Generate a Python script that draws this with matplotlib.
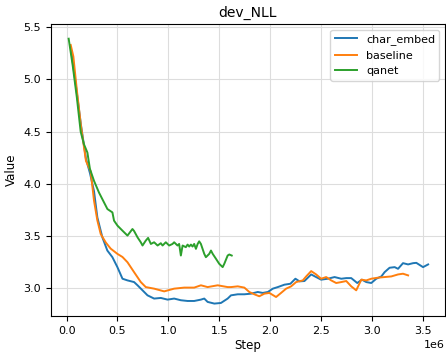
import matplotlib
matplotlib.use("Agg")
import matplotlib.pyplot as plt

# step values are in units of 1e6
char_x = [0.04, 0.09, 0.14, 0.19, 0.23, 0.269, 0.302, 0.351, 0.400, 0.450, 0.499, 0.549,
          0.598, 0.663, 0.697, 0.746, 0.795, 0.860, 0.926, 0.992, 1.057, 1.123, 1.189,
          1.254, 1.320, 1.353, 1.386, 1.452, 1.517, 1.583, 1.616, 1.682, 1.747, 1.813,
          1.879, 1.928, 1.978, 2.027, 2.076, 2.141, 2.200, 2.249, 2.289, 2.338, 2.404,
          2.453, 2.502, 2.568, 2.634, 2.700, 2.749, 2.798, 2.857, 2.903, 2.946, 2.995,
          3.044, 3.094, 3.126, 3.175, 3.225, 3.258, 3.307, 3.357, 3.406, 3.438, 3.504, 3.554]
char_y = [5.31, 4.95, 4.57, 4.24, 4.10, 3.93, 3.679, 3.489, 3.362, 3.298, 3.203, 3.092,
          3.076, 3.060, 3.029, 2.981, 2.933, 2.902, 2.908, 2.892, 2.902, 2.886, 2.879,
          2.879, 2.892, 2.902, 2.870, 2.854, 2.860, 2.902, 2.933, 2.943, 2.943, 2.949,
          2.965, 2.956, 2.965, 2.997, 3.012, 3.035, 3.044, 3.092, 3.067, 3.070, 3.133,
          3.108, 3.083, 3.092, 3.108, 3.092, 3.098, 3.098, 3.051, 3.083, 3.060, 3.051,
          3.092, 3.114, 3.155, 3.197, 3.203, 3.187, 3.241, 3.229, 3.241, 3.244, 3.203, 3.229]

base_x = [0.04, 0.066, 0.10, 0.14, 0.19, 0.236, 0.269, 0.302, 0.335, 0.384, 0.433, 0.499,
          0.549, 0.598, 0.663, 0.729, 0.778, 0.860, 0.959, 1.057, 1.156, 1.254, 1.320,
          1.386, 1.485, 1.583, 1.616, 1.682, 1.747, 1.796, 1.845, 1.894, 1.944, 1.993,
          2.059, 2.108, 2.158, 2.207, 2.256, 2.322, 2.355, 2.404, 2.453, 2.502, 2.552,
          2.601, 2.650, 2.700, 2.749, 2.798, 2.847, 2.897, 2.946, 2.995, 3.061, 3.126,
          3.192, 3.258, 3.307, 3.357]
base_y = [5.33, 5.22, 4.90, 4.56, 4.22, 4.12, 3.84, 3.65, 3.52, 3.44, 3.38, 3.33,
          3.30, 3.25, 3.155, 3.06, 3.012, 2.997, 2.971, 2.997, 3.007, 3.007, 3.029,
          3.012, 3.029, 3.012, 3.012, 3.019, 3.007, 2.965, 2.943, 2.924, 2.949, 2.956,
          2.917, 2.956, 2.997, 3.019, 3.060, 3.076, 3.114, 3.165, 3.133, 3.092, 3.108,
          3.076, 3.051, 3.060, 3.070, 3.019, 2.981, 3.083, 3.076, 3.092, 3.102, 3.108,
          3.114, 3.133, 3.140, 3.124]

qanet_x = [0.02, 0.06, 0.10, 0.138, 0.17, 0.204, 0.229, 0.269, 0.318, 0.351, 0.401,
           0.450, 0.466, 0.500, 0.549, 0.598, 0.647, 0.663, 0.697, 0.729, 0.746, 0.778,
           0.801, 0.828, 0.860, 0.894, 0.926, 0.943, 0.975, 1.008, 1.041, 1.057, 1.090,
           1.106, 1.123, 1.140, 1.172, 1.189, 1.205, 1.222, 1.238, 1.254, 1.271, 1.288,
           1.303, 1.320, 1.353, 1.369, 1.402, 1.419, 1.436, 1.468, 1.500, 1.534, 1.550,
           1.583, 1.599, 1.623]
qanet_y = [5.39, 5.13, 4.83, 4.50, 4.38, 4.30, 4.143, 4.029, 3.917, 3.854, 3.759,
           3.727, 3.648, 3.600, 3.552, 3.505, 3.568, 3.549, 3.488, 3.441, 3.410, 3.457,
           3.483, 3.425, 3.441, 3.410, 3.432, 3.410, 3.441, 3.410, 3.425, 3.441, 3.410,
           3.425, 3.314, 3.410, 3.394, 3.419, 3.400, 3.419, 3.400, 3.425, 3.378, 3.425,
           3.450, 3.425, 3.330, 3.298, 3.330, 3.362, 3.330, 3.283, 3.235, 3.203, 3.235,
           3.314, 3.324, 3.314]

scale = 1e6

fig = plt.figure(figsize=(4.46, 3.54), dpi=100)
ax = fig.add_axes([0.1143, 0.1073, 0.8835, 0.8247])

ax.plot([v * scale for v in char_x], char_y, color='#1f77b4', lw=1.4, label='char_embed')
ax.plot([v * scale for v in base_x], base_y, color='#ff7f0e', lw=1.4, label='baseline')
ax.plot([v * scale for v in qanet_x], qanet_y, color='#2ca02c', lw=1.4, label='qanet')

ax.set_xlim(-0.154e6, 3.72e6)
ax.set_ylim(2.735, 5.53)
ax.set_xticks([0, 0.5e6, 1e6, 1.5e6, 2e6, 2.5e6, 3e6, 3.5e6])
ax.set_yticks([3.0, 3.5, 4.0, 4.5, 5.0, 5.5])
ax.tick_params(labelsize=8)
ax.xaxis.get_offset_text().set_fontsize(8)
ax.grid(True, color='#dddddd', lw=0.8)
ax.set_title('dev_NLL', fontsize=10, pad=5)
ax.set_xlabel('Step', fontsize=8.5, labelpad=2)
ax.set_ylabel('Value', fontsize=8.5)
ax.legend(loc='upper right', fontsize=8)

fig.savefig('out.png', dpi=100)
